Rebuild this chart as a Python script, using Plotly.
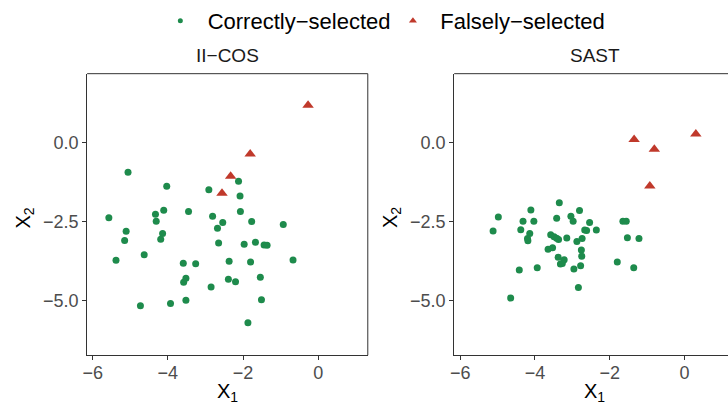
import plotly.graph_objects as go

# ---------------- data ----------------
panels = ["II\u2212COS", "SAST"]

# II-COS
iicos_correct_x = [-5.06, -4.03, -2.91, -2.12, -2.08, -5.57, -4.33, -4.31, -4.11, -3.45,
                   -2.81, -2.54, -2.68, -2.07, -1.77, -0.93, -5.11, -4.14, -5.15, -4.19,
                   -2.65, -1.97, -1.67, -1.44, -1.36, -5.38, -4.63, -3.59, -3.26, -2.37,
                   -1.80, -0.67, -3.52, -3.58, -2.39, -2.20, -1.54, -2.85, -4.73, -3.93,
                   -3.52, -1.51, -1.87]
iicos_correct_y = [-0.93, -1.38, -1.49, -1.22, -1.69, -2.38, -2.27, -2.49, -2.14, -2.18,
                   -2.33, -2.53, -2.71, -2.18, -2.50, -2.59, -2.81, -2.88, -3.10, -3.06,
                   -3.18, -3.22, -3.16, -3.24, -3.25, -3.73, -3.55, -3.82, -3.84, -3.76,
                   -3.78, -3.72, -4.30, -4.43, -4.33, -4.41, -4.27, -4.58, -5.17, -5.10,
                   -5.00, -4.98, -5.71]
iicos_false_x = [-0.27, -1.81, -2.33, -2.56]
iicos_false_y = [1.20, -0.35, -1.06, -1.60]

# SAST
sast_correct_x = [-3.35, -4.11, -2.81, -4.98, -3.42, -3.04, -2.98, -4.32, -4.03, -2.54,
                  -1.65, -1.56, -5.12, -4.38, -4.14, -2.67, -2.62, -2.36, -3.58, -3.49,
                  -3.42, -3.37, -3.15, -2.74, -2.88, -4.20, -4.19, -1.53, -1.22, -3.65,
                  -3.53, -2.76, -2.75, -3.38, -3.22, -3.32, -3.27, -4.42, -3.94, -2.96,
                  -2.78, -1.80, -1.36, -2.84, -4.65]
sast_correct_y = [-1.90, -2.13, -2.15, -2.35, -2.39, -2.33, -2.49, -2.49, -2.49, -2.53,
                  -2.49, -2.49, -2.80, -2.76, -2.88, -2.77, -2.78, -2.77, -2.92, -2.98,
                  -3.03, -3.07, -3.02, -3.04, -3.13, -3.04, -3.11, -3.01, -3.04, -3.38,
                  -3.33, -3.40, -3.60, -3.63, -3.71, -3.85, -3.83, -4.04, -3.97, -4.01,
                  -3.90, -3.78, -3.97, -4.59, -4.93]
sast_false_x = [-1.35, -0.81, -0.93, 0.30]
sast_false_y = [0.11, -0.20, -1.37, 0.28]

x_ticks = [-6, -4, -2, 0]
y_ticks = [0.0, -2.5, -5.0]
legend_names = ["Correctly\u2212selected", "Falsely\u2212selected"]

# ---------------- style ----------------
GREEN = "#1E8B4C"
RED = "#C0392B"
FONT = "Liberation Sans"
AX = "#333333"
W, H = 728, 404

fig = go.Figure()

# legend-only entries
fig.add_trace(go.Scatter(x=[None], y=[None], mode="markers", name="\u2004" + legend_names[0],
                         marker=dict(symbol="circle", size=5, color=GREEN)))
fig.add_trace(go.Scatter(x=[None], y=[None], mode="markers", name="\u2004" + legend_names[1],
                         marker=dict(symbol="triangle-up", size=7, color=RED)))

def add_panel(cx, cy, fx, fy, xa, ya):
    fig.add_trace(go.Scatter(x=cx, y=cy, mode="markers", showlegend=False,
                             xaxis=xa, yaxis=ya,
                             marker=dict(symbol="circle", size=7, color=GREEN)))
    fig.add_trace(go.Scatter(x=fx, y=fy, mode="markers", showlegend=False,
                             xaxis=xa, yaxis=ya,
                             marker=dict(symbol="triangle-up", size=10, color=RED)))

add_panel(iicos_correct_x, iicos_correct_y, iicos_false_x, iicos_false_y, "x", "y")
add_panel(sast_correct_x, sast_correct_y, sast_false_x, sast_false_y, "x2", "y2")

ydom = [(H - 354) / H, (H - 65.3) / H]
xdom1 = [82.7 / W, 365.3 / W]
xdom2 = [452.3 / W, 1.0]

TICKFONT = dict(family=FONT, size=18, color="#4D4D4D")
common_x = dict(showgrid=False, zeroline=False, showline=True, linecolor=AX, linewidth=1,
                ticks="outside", ticklen=4, tickcolor=AX, tickwidth=1,
                ticklabelstandoff=-3,
                tickvals=x_ticks, tickfont=TICKFONT)
common_y = dict(showgrid=False, zeroline=False, showline=True, linecolor=AX, linewidth=1,
                ticks="outside", ticklen=4, tickcolor=AX, tickwidth=1,
                tickvals=y_ticks, tickformat=".1f", range=[-6.746, 2.2],
                tickfont=TICKFONT)

fig.update_layout(
    width=W, height=H,
    margin=dict(l=0, r=0, t=0, b=0),
    paper_bgcolor="white", plot_bgcolor="white",
    font=dict(family=FONT, color="black"),
    xaxis=dict(domain=xdom1, range=[-6.148, 1.319], anchor="y", **common_x),
    yaxis=dict(domain=ydom, anchor="x", **common_y),
    xaxis2=dict(domain=xdom2, range=[-6.16, 1.16], anchor="y2", **common_x),
    yaxis2=dict(domain=ydom, anchor="x2", **common_y),
    legend=dict(orientation="h", x=156.4 / W, xanchor="left", y=1 - 11 / H, yanchor="middle",
                font=dict(family=FONT, size=22, color="black"),
                bgcolor="rgba(0,0,0,0)", entrywidth=187.6, entrywidthmode="pixels"),
    showlegend=True,
)

# top/right borders
shapes = [
    dict(type="line", xref="x domain", yref="y domain", x0=0, x1=1, y0=1, y1=1,
         line=dict(color=AX, width=1)),
    dict(type="line", xref="x domain", yref="y domain", x0=1, x1=1, y0=0, y1=1,
         line=dict(color=AX, width=1)),
    dict(type="line", xref="x2 domain", yref="y2 domain", x0=0, x1=1, y0=1, y1=1,
         line=dict(color=AX, width=1)),
]
fig.update_layout(shapes=shapes)

annots = []
pw = 282.6 / W
for xd, name in [(xdom1, panels[0]), (xdom2, panels[1])]:
    cxp = xd[0] + pw / 2
    annots.append(dict(text=name, x=cxp, y=(H - 47) / H, xref="paper", yref="paper",
                       xanchor="center", yanchor="middle", showarrow=False,
                       font=dict(family=FONT, size=19, color="#1A1A1A")))
    annots.append(dict(text="X<sub>1</sub>", x=cxp, y=0, xref="paper", yref="paper",
                       xanchor="center", yanchor="bottom", yshift=-3, showarrow=False,
                       font=dict(family=FONT, size=20, color="black")))
for xp in [20, 389]:
    annots.append(dict(text="X<sub>2</sub>", x=xp / W, y=(H - 213) / H, xref="paper", yref="paper",
                       xanchor="center", yanchor="middle", showarrow=False, textangle=-90,
                       font=dict(family=FONT, size=20, color="black")))
fig.update_layout(annotations=annots)

fig.write_html("out.html")
